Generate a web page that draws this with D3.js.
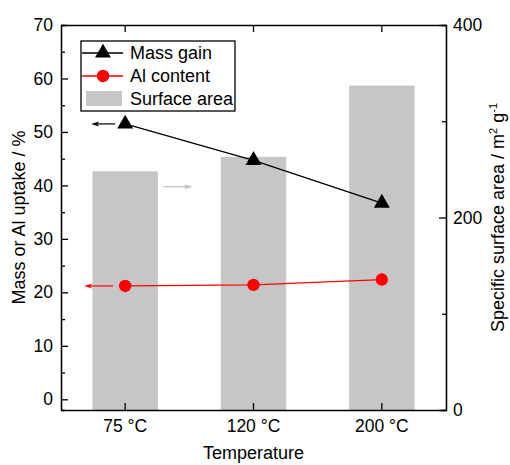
<!DOCTYPE html>
<html>
<head>
<meta charset="utf-8">
<script src="https://cdn.jsdelivr.net/npm/d3@7"></script>
<style>
  body { margin: 0; background: #fff; }
  text { font-family: Arial, "Liberation Sans", sans-serif; fill: #000; }
</style>
</head>
<body>
<div id="chart"></div>
<script>
// Data
const temperatures = ["75 °C", "120 °C", "200 °C"];
const massGain = [51.5, 44.7, 36.7];
const alContent = [21.2, 21.4, 22.4];
const surfaceArea = [248, 263, 337];
const leftTicks = [0, 10, 20, 30, 40, 50, 60, 70];
const rightTicks = [0, 200, 400];

const margin = {top: 25, right: 64, bottom: 55, left: 61};
const width = 510 - margin.left - margin.right;
const height = 465 - margin.top - margin.bottom;

const svg = d3.select("#chart")
    .append("svg")
    .attr("width", 510)
    .attr("height", 465)
    .append("g")
    .attr("transform", `translate(${margin.left},${margin.top})`);

// Scales
const x = d3.scaleBand()
    .domain(temperatures)
    .range([0, width])
    .padding(0);

const yLeft = d3.scaleLinear()
    .domain([-2, 70])
    .range([height, 0]);

const yRight = d3.scaleLinear()
    .domain([0, 400])
    .range([height, 0]);

const barWidth = x.bandwidth() * 0.51;
const cx = d => x(d) + x.bandwidth() / 2;

// Bars (surface area, right axis)
svg.selectAll(".bar")
    .data(temperatures)
    .enter()
    .append("rect")
    .attr("x", d => cx(d) - barWidth / 2)
    .attr("y", (d, i) => yRight(surfaceArea[i]))
    .attr("width", barWidth)
    .attr("height", (d, i) => height - yRight(surfaceArea[i]))
    .attr("fill", "#c6c6c6");

// Axes
const leftAxis = svg.append("g")
    .call(d3.axisLeft(yLeft).tickValues(leftTicks).tickSizeInner(-7).tickSizeOuter(0).tickPadding(8));
leftAxis.append("g")
    .call(d3.axisLeft(yLeft).tickValues(d3.range(5, 70, 10)).tickSize(-4).tickFormat(""));

const rightAxis = svg.append("g")
    .attr("transform", `translate(${width},0)`)
    .call(d3.axisRight(yRight).tickValues(rightTicks).tickSizeInner(-7).tickSizeOuter(0).tickPadding(7));
rightAxis.append("g")
    .call(d3.axisRight(yRight).tickValues([100, 300]).tickSize(-4).tickFormat(""));

svg.append("g")
    .attr("transform", `translate(0,${height})`)
    .call(d3.axisBottom(x).tickSizeInner(-7).tickSizeOuter(0).tickPadding(10));

svg.append("g")
    .call(d3.axisTop(x).tickSizeInner(-7).tickSizeOuter(0).tickFormat(""));

svg.selectAll(".domain, .tick line")
    .attr("stroke", "#000")
    .attr("stroke-width", 1.3);
svg.selectAll(".tick text")
    .style("font-size", "17.5px")
    .style("font-family", "Arial, 'Liberation Sans', sans-serif");

// Axis titles
svg.append("text")
    .attr("x", width / 2)
    .attr("y", height + 49)
    .style("text-anchor", "middle")
    .style("font-size", "18px")
    .text("Temperature");

svg.append("text")
    .attr("transform", `translate(${-36},${height / 2}) rotate(-90)`)
    .style("text-anchor", "middle")
    .style("font-size", "18px")
    .text("Mass or Al uptake / %");

const rTitle = svg.append("text")
    .attr("transform", `translate(${width + 58},${height / 2}) rotate(-90)`)
    .style("text-anchor", "middle")
    .style("font-size", "18px");
rTitle.append("tspan").text("Specific surface area / m");
rTitle.append("tspan").attr("dy", -7).style("font-size", "11px").text("2");
rTitle.append("tspan").attr("dy", 7).text(" g");
rTitle.append("tspan").attr("dy", -7).style("font-size", "11px").text("-1");

// Lines
const valueLine = d3.line()
    .x((d, i) => cx(temperatures[i]))
    .y(d => yLeft(d));

svg.append("path")
    .datum(massGain)
    .attr("fill", "none")
    .attr("stroke", "#000")
    .attr("stroke-width", 1.3)
    .attr("d", valueLine);

svg.append("path")
    .datum(alContent)
    .attr("fill", "none")
    .attr("stroke", "#ff0000")
    .attr("stroke-width", 1.3)
    .attr("d", valueLine);

const triangle = d3.symbol().type(d3.symbolTriangle).size(110);

svg.selectAll(".tri")
    .data(massGain)
    .enter()
    .append("path")
    .attr("d", triangle)
    .attr("transform", (d, i) => `translate(${cx(temperatures[i])},${yLeft(d)})`)
    .attr("fill", "#000");

svg.selectAll(".dot")
    .data(alContent)
    .enter()
    .append("circle")
    .attr("cx", (d, i) => cx(temperatures[i]))
    .attr("cy", d => yLeft(d))
    .attr("r", 6.2)
    .attr("fill", "#ff0000");

// Arrows pointing to the axes
function arrow(x1, x2, y, color) {
    const dir = x2 < x1 ? 1 : -1;
    svg.append("line")
        .attr("x1", x1).attr("x2", x2 + dir * 5)
        .attr("y1", y).attr("y2", y)
        .attr("stroke", color)
        .attr("stroke-width", 1.2);
    svg.append("path")
        .attr("d", `M${x2},${y} L${x2 + dir * 8},${y - 2.5} L${x2 + dir * 6},${y} L${x2 + dir * 8},${y + 2.5} Z`)
        .attr("fill", color);
}
const x0 = cx(temperatures[0]);
arrow(x0 - 10, x0 - 34, yLeft(massGain[0]), "#000");
arrow(x0 - 12, x0 - 41, yLeft(alContent[0]), "#ff0000");
arrow(x0 + 38, x0 + 67, yRight(232), "#c0c0c0");

// Legend
const legend = svg.append("g")
    .attr("transform", `translate(${20},${16})`);

legend.append("rect")
    .attr("x", 0).attr("y", 0)
    .attr("width", 154).attr("height", 70)
    .attr("fill", "#fff")
    .attr("stroke", "#000")
    .attr("stroke-width", 1.3);

const legendItems = ["Mass gain", "Al content", "Surface area"];
legendItems.forEach((name, i) => {
    const ly = 12 + i * 23;
    if (i === 0 || i === 1) {
        const col = i === 0 ? "#000" : "#ff0000";
        legend.append("line")
            .attr("x1", 1).attr("x2", 42)
            .attr("y1", ly).attr("y2", ly)
            .attr("stroke", col)
            .attr("stroke-width", 1.3);
        if (i === 0) {
            legend.append("path")
                .attr("d", triangle)
                .attr("transform", `translate(22,${ly})`)
                .attr("fill", col);
        } else {
            legend.append("circle")
                .attr("cx", 22).attr("cy", ly)
                .attr("r", 6.2)
                .attr("fill", col);
        }
    } else {
        legend.append("rect")
            .attr("x", 5).attr("y", ly - 8)
            .attr("width", 36).attr("height", 15)
            .attr("fill", "#c6c6c6");
    }
    legend.append("text")
        .attr("x", 49)
        .attr("y", ly + 6)
        .style("font-size", "18px")
        .text(name);
});
</script>
</body>
</html>
